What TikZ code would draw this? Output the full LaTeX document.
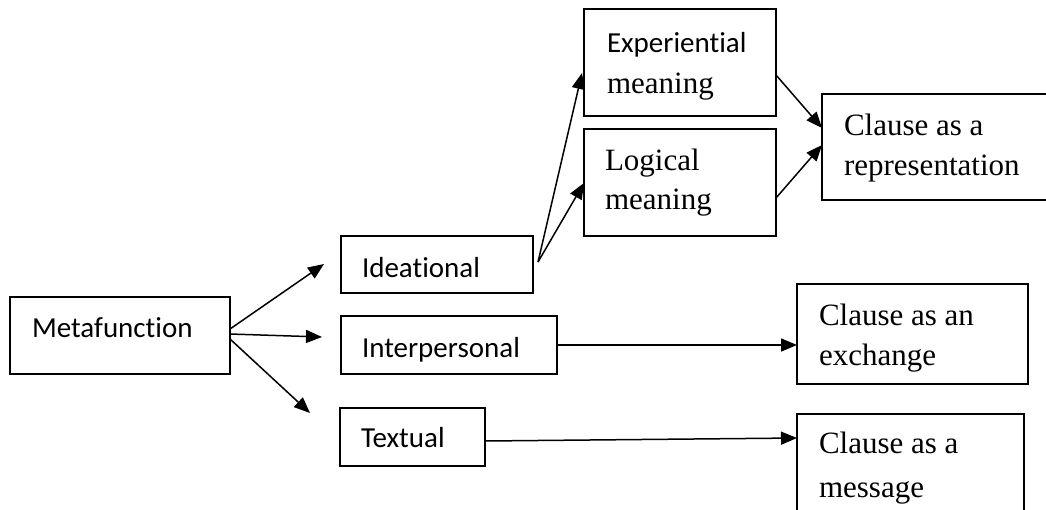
\documentclass[tikz,border=0pt]{standalone}
\usepackage{fontspec}
\newfontfamily\calibri[Ligatures=NoCommon]{Carlito}
\newfontfamily\tnr{Liberation Serif}
\usetikzlibrary{arrows.meta}
\tikzset{
    box/.style={draw, line width=1.6pt, anchor=north west, outer sep=0pt, inner ysep=0pt, inner xsep=21pt, align=flush left},
    sans/.style={font=\calibri\fontsize{29}{36}\selectfont},
    serif/.style={font=\tnr\fontsize{31}{40}\selectfont}
}

\begin{document}
\begin{tikzpicture}[x=1pt,y=-1pt,>={Triangle[length=16pt,width=13pt]},line width=1.5pt]

    \useasboundingbox (0,0) rectangle (1046,509);

    \node[box,sans,inner xsep=22pt,text width=176pt,text height=40pt,text depth=37pt] (M) at (10,297) {Metafunction};
    \node[box,sans,text width=150pt,text height=41pt,text depth=16pt] (Id) at (341,236) {Ideational};
    \node[box,sans,text width=174pt,text height=41pt,text depth=17pt] (Ip) at (341,316) {Interpersonal};
    \node[box,sans,text width=103pt,text height=39pt,text depth=19pt] (Tx) at (340,408) {Textual};
    \node[box,sans,inner xsep=23pt,text width=146pt,text height=43pt,text depth=64pt] (Ex) at (584,9) {Experiential\\[5pt]{\tnr\fontsize{31}{40}\selectfont meaning}};
    \node[box,serif,text width=150pt,text height=41pt,text depth=66pt] (Lg) at (584,129) {Logical\\[-1pt]meaning};
    \node[box,serif,inner xsep=22pt,text width=192pt,text height=41pt,text depth=65pt] (C1) at (822,94) {Clause as a\\representation};
    \node[box,serif,inner xsep=22pt,text width=187pt,text height=41pt,text depth=59pt] (C2) at (797,284) {Clause as an\\exchange};
    \node[box,serif,inner xsep=22pt,text width=183pt,text height=39pt,text depth=80pt] (C3) at (797,414) {Clause as a\\[4pt]message};

    \coordinate (mi) at (324,264);
    \coordinate (mp) at (322,337);
    \coordinate (mt) at (310,413);
    \coordinate (te) at (582,73);
    \coordinate (tl) at (584,183);
    \coordinate (r1) at (822,128);
    \coordinate (r2) at (822,145);
    \coordinate (tm) at (797,438);

    \draw[->] ([yshift=6.5pt]M.east) -- (mi);
    \draw[->] ([yshift=1.5pt]M.east) -- (mp);
    \draw[->] ([yshift=-3.5pt]M.east) -- (mt);
    \draw[->] ([shift={(5pt,2.5pt)}]Id.east) -- (te);
    \draw[->] ([shift={(5pt,2.5pt)}]Id.east) -- (tl);
    \draw[->] ([yshift=-12.5pt]Ex.east) -- (r1);
    \draw[->] ([yshift=-15.5pt]Lg.east) -- (r2);
    \draw[->] (Ip.east) -- (Ip.east -| C2.west);
    \draw[->] ([yshift=-4pt]Tx.east) -- (tm);
        \end{tikzpicture}
\end{document}
